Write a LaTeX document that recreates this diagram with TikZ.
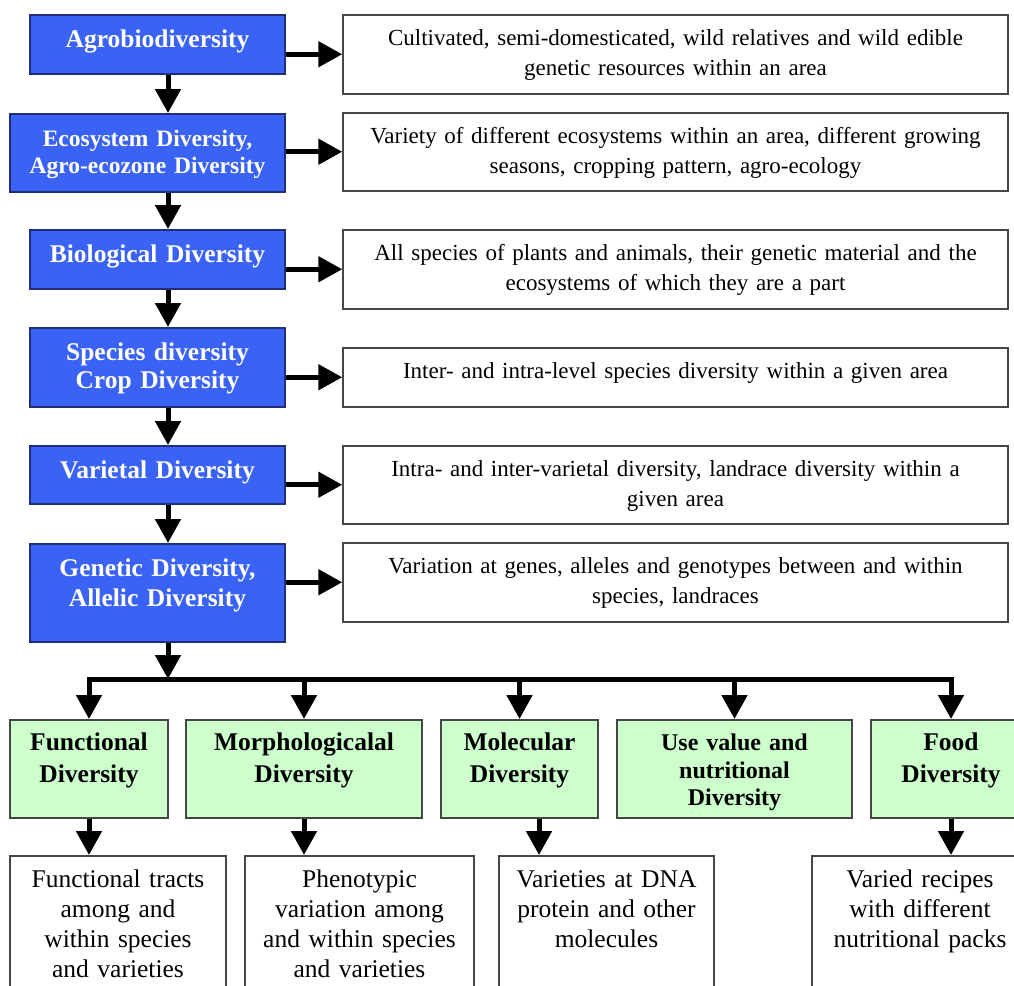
\documentclass[tikz,border=0pt]{standalone}
\usepackage{fontspec}
\setmainfont{Liberation Serif}
\usepackage{xcolor}
\usepackage{tikz}
\usetikzlibrary{arrows.meta}

\definecolor{levelblue}{RGB}{58,98,245}
\definecolor{leveledge}{RGB}{35,45,120}
\definecolor{kindgreen}{RGB}{204,255,204}
\definecolor{boxedge}{RGB}{70,70,70}

\begin{document}
\begin{tikzpicture}[x=1pt, y=-1pt,
  every node/.style={rectangle, draw, line width=1.5pt, inner sep=0pt, align=center, anchor=north},
  level/.style={draw=leveledge, fill=levelblue, text=white, font=\fontsize{25.5}{28}\selectfont\bfseries, text width=255pt, text height=33pt},
  descr/.style={draw=boxedge, fill=white, font=\fontsize{23}{30}\selectfont, text width=665pt, text height=31pt},
  kind/.style={draw=boxedge, fill=kindgreen, font=\fontsize{25.5}{32}\selectfont\bfseries, text height=31pt, text depth=67pt},
  leaf/.style={draw=boxedge, fill=white, font=\fontsize{25.5}{30}\selectfont, text height=32pt, text depth=150pt},
  arr/.style={line width=5pt, -{Triangle[length=24pt, width=25pt]}}]
\useasboundingbox (0,0) rectangle (1014,985);
% Levels
\node[level, text depth=26pt] (lv1) at (157.5,14) {Agrobiodiversity};
\node[level, text width=275pt, text depth=45pt, font=\fontsize{23.5}{27}\selectfont\bfseries] (lv2) at (147.5,113) {Ecosystem Diversity,\\Agro-ecozone Diversity};
\node[level, text depth=26pt] (lv3) at (157.5,229) {Biological Diversity};
\node[level, text depth=46pt] (lv4) at (157.5,327) {Species diversity\\Crop Diversity};
\node[level, text depth=25pt] (lv5) at (157.5,445) {Varietal Diversity};
\node[level, text depth=65pt, font=\fontsize{25.5}{30}\selectfont\bfseries] (lv6) at (157.5,543) {Genetic Diversity,\\Allelic Diversity};
% Descriptions
\node[descr, text depth=48pt] (ds1) at (675.5,14) {Cultivated, semi-domesticated, wild relatives and wild edible\\genetic resources within an area};
\node[descr, text depth=47pt] (ds2) at (675.5,112) {Variety of different ecosystems within an area, different growing\\seasons, cropping pattern, agro-ecology};
\node[descr, text depth=48pt] (ds3) at (675.5,229) {All species of plants and animals, their genetic material and the\\ecosystems of which they are a part};
\node[descr, text depth=28pt] (ds4) at (675.5,347) {Inter- and intra-level species diversity within a given area};
\node[descr, text depth=47pt] (ds5) at (675.5,445) {Intra- and inter-varietal diversity, landrace diversity within a\\given area};
\node[descr, text depth=48pt] (ds6) at (675.5,542) {Variation at genes, alleles and genotypes between and within\\species, landraces};
% Kinds
\node[kind, text width=158pt] (ty1) at (89,719) {Functional\\Diversity};
\node[kind, text width=236pt] (ty2) at (304,719) {Morphologicalal\\Diversity};
\node[kind, text width=157pt] (ty3) at (519.5,719) {Molecular\\Diversity};
\node[kind, text width=235pt, font=\fontsize{24}{27.5}\selectfont\bfseries] (ty4) at (734.5,719) {Use value and\\nutritional\\Diversity};
\node[kind, text width=160pt] (ty5) at (951,719) {Food\\Diversity};
% Examples
\node[leaf, text width=216pt] (ex1) at (118,855) {Functional tracts\\among and\\within species\\and varieties};
\node[leaf, text width=229pt] (ex2) at (359.5,855) {Phenotypic\\variation among\\and within species\\and varieties};
\node[leaf, text width=215pt] (ex3) at (606.5,855) {Varieties at DNA\\protein and other\\molecules};
\node[leaf, text width=216pt] (ex4) at (920,855) {Varied recipes\\with different\\nutritional packs};
% Arrows
\coordinate (spine) at (168,0);
\coordinate (bus) at (0,679);
\foreach \u/\l in {lv1/lv2, lv2/lv3, lv3/lv4, lv4/lv5, lv5/lv6}
  \draw[arr] (spine |- \u.south) -- (spine |- \l.north);
\foreach \i in {1,...,6}
  \draw[arr] (lv\i.east |- ds\i) -- (ds\i.west);
\draw[arr] (spine |- lv6.south) -- (spine |- bus);
\draw[line width=5pt, line cap=rect] (ty1.north |- bus) -- (ty5.north |- bus);
\foreach \i in {1,...,5}
  \draw[arr] (ty\i.north |- bus) -- (ty\i.north);
\draw[arr] (ty1.south) -- (ty1.south |- ex1.north);
\draw[arr] (ty2.south) -- (ty2.south |- ex2.north);
\draw[arr] ([xshift=19.5pt]ty3.south) -- ([xshift=19.5pt]ty3.south |- ex3.north);
\draw[arr] (ty5.south) -- (ty5.south |- ex4.north);
\end{tikzpicture}
\end{document}
